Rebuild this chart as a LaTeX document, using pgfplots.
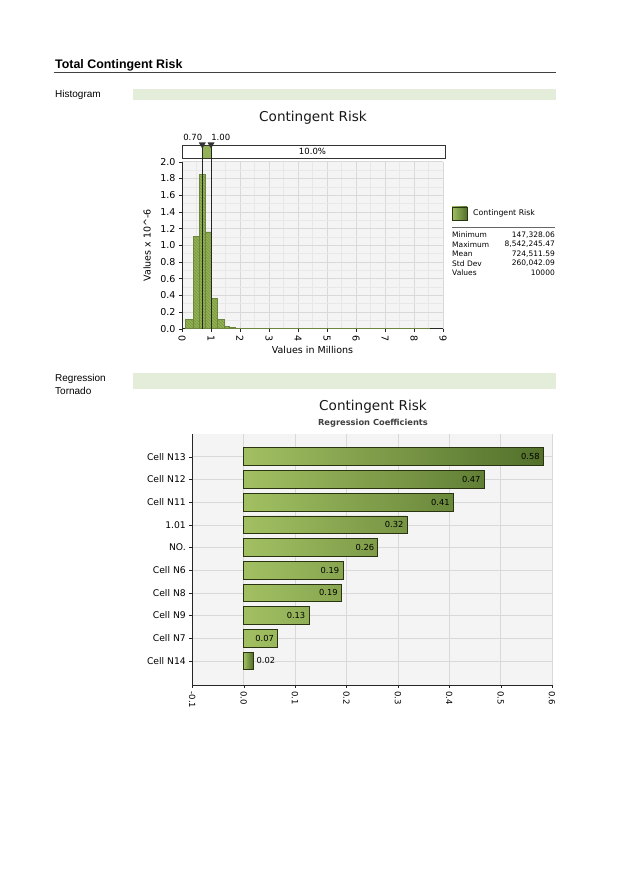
\documentclass[border=0pt]{standalone}
\usepackage{fontspec}
\setmainfont{Liberation Sans}
\newfontfamily\chartfont{DejaVu Sans}
\usepackage{pgfplots}
\pgfplotsset{compat=1.18}
\usetikzlibrary{patterns}

\definecolor{band}{HTML}{E4EDD9}
\definecolor{histg}{HTML}{93B156}
\definecolor{stripe}{HTML}{779838}
\definecolor{barlight}{HTML}{A2C062}
\definecolor{bardark}{HTML}{52702A}
\definecolor{baredge}{HTML}{2A3410}
\definecolor{plotbg}{HTML}{F4F4F4}
\definecolor{gridc}{HTML}{D9D9D9}

\begin{document}
\begin{tikzpicture}
\begin{scope}[x=1pt,y=1pt]
\useasboundingbox (0,0) rectangle (622,879);
\fill[white] (0,0) rectangle (622,879);
% page header
\node[anchor=base west, inner sep=0, font=\fontsize{12.4}{14}\selectfont\bfseries] at (55,810.5) {Total Contingent Risk};
\draw[black!75, line width=1.2pt] (54,806.5) -- (556,806.5);
\node[anchor=west, inner sep=0, font=\fontsize{10}{12}\selectfont] at (55,784.5) {Histogram};
\fill[band] (133,779) rectangle (556,790);
\node[anchor=west, inner sep=0, font=\fontsize{10}{12}\selectfont] at (55,500) {Regression};
\node[anchor=west, inner sep=0, font=\fontsize{10}{12}\selectfont] at (55,488) {Tornado};
\fill[band] (133,490) rectangle (556,506);
% histogram title and stats box
\node[font=\chartfont\fontsize{13.6}{15}\selectfont, text=black!90] at (313,761) {Contingent Risk};
\shade[left color=barlight, right color=bardark, draw=baredge] (452,659) rectangle (467,672);
\node[anchor=west, inner sep=0, font=\chartfont\fontsize{7.8}{9}\selectfont] at (473,665.5) {Contingent Risk};
\draw[black!60] (452,652) -- (555,652);
\begin{scope}[every node/.style={inner sep=0, font=\chartfont\fontsize{7.5}{9}\selectfont}]
\node[anchor=west] at (452,644) {Minimum};   \node[anchor=east] at (555,644) {147,328.06};
\node[anchor=west] at (452,634.5) {Maximum}; \node[anchor=east] at (555,634.5) {8,542,245.47};
\node[anchor=west] at (452,625) {Mean};      \node[anchor=east] at (555,625) {724,511.59};
\node[anchor=west] at (452,615.5) {Std Dev}; \node[anchor=east] at (555,615.5) {260,042.09};
\node[anchor=west] at (452,606) {Values};    \node[anchor=east] at (555,606) {10000};
\end{scope}
% tornado titles
\node[font=\chartfont\fontsize{13.6}{15}\selectfont, text=black!90] at (373,472) {Contingent Risk};
\node[font=\chartfont\fontsize{8.3}{10}\selectfont\bfseries, text=black!75] at (373,456) {Regression Coefficients};
\end{scope}

% ---------------- histogram ----------------
\begin{axis}[
    at={(182pt,550.3pt)}, anchor=south west,
    scale only axis, width=261pt, height=167pt,
    xmin=0, xmax=9, ymin=0, ymax=2,
    clip=false,
    axis background/.style={fill=plotbg},
    axis lines*=left, axis line style={black!85, line width=0.8pt},
    xtick={0,1,...,9},
    ytick={0,0.2,0.4,0.6,0.8,1.0,1.2,1.4,1.6,1.8,2.0},
    minor x tick num=1, minor y tick num=1,
    grid=both, major grid style={gridc}, minor grid style={gridc!60},
    tick align=outside, major tick length=3pt, minor tick length=0pt,
    tick style={black!85},
    /pgf/number format/assume math mode=true,
    yticklabel style={/pgf/number format/fixed, /pgf/number format/precision=1,
        /pgf/number format/fixed zerofill},
    xticklabel style={rotate=-90, anchor=west},
    ticklabel style={font=\chartfont\fontsize{9.5}{10}\selectfont, text=black},
    xlabel={Values in Millions},
    ylabel={Values x 10\textasciicircum-6},
    every axis x label/.style={at={(axis description cs:0.5,-0.13)}, anchor=center,
        font=\chartfont\fontsize{9.5}{11}\selectfont},
    every axis y label/.style={at={(axis description cs:-0.134,0.5)}, rotate=90, anchor=center,
        font=\chartfont\fontsize{9.5}{11}\selectfont},
]
\addplot[ybar interval, fill=histg, draw=histg!75!black,
    postaction={pattern=north west lines, pattern color=stripe}]
  coordinates {(0.12,0.11) (0.38,1.11) (0.60,1.85) (0.80,1.16) (1.02,0.36)
               (1.23,0.11) (1.44,0.03) (1.64,0.012) (1.84,0.004) (2.05,0.002) (8.54,0)};
% selected range 0.70 - 1.00
\fill[histg] (axis cs:0.7,2.045) rectangle (axis cs:1.0,2.2);
\draw[black!80] (axis cs:0,2.045) rectangle (axis cs:9.07,2.2);
\node[font=\chartfont\fontsize{8.5}{10}\selectfont] at (axis cs:4.5,2.122) {10.0\%};
\draw[black!85, line width=0.7pt] (axis cs:0.7,0) -- (axis cs:0.7,2.2);
\draw[black!85, line width=0.7pt] (axis cs:1.0,0) -- (axis cs:1.0,2.2);
\fill[black!80] (axis cs:0.7,2.2) ++(-3.5pt,2.5pt) -- ++(7pt,0) -- ++(-3.5pt,-6pt) -- cycle;
\fill[black!80] (axis cs:1.0,2.2) ++(-3.5pt,2.5pt) -- ++(7pt,0) -- ++(-3.5pt,-6pt) -- cycle;
\node[anchor=south east, inner sep=1pt, font=\chartfont\fontsize{8.5}{10}\selectfont] at (axis cs:0.74,2.24) {0.70};
\node[anchor=south west, inner sep=1pt, font=\chartfont\fontsize{8.5}{10}\selectfont] at (axis cs:0.97,2.24) {1.00};
\end{axis}

% ---------------- tornado ----------------
\begin{axis}[
    at={(192.3pt,194pt)}, anchor=south west,
    scale only axis, width=359.7pt, height=251pt,
    xmin=-0.1, xmax=0.6, ymin=-1.06, ymax=10,
    axis background/.style={fill=plotbg},
    axis lines*=left, axis line style={black!85, line width=0.8pt},
    xtick={-0.1,0,0.1,0.2,0.3,0.4,0.5,0.6},
    ytick={0,...,9},
    yticklabels={Cell N14, Cell N7, Cell N9, Cell N8, Cell N6, NO., 1.01, Cell N11, Cell N12, Cell N13},
    grid=major, major grid style={gridc},
    tick align=outside, major tick length=3pt, tick style={black!85},
    /pgf/number format/assume math mode=true,
    xticklabel style={rotate=-90, anchor=west, /pgf/number format/fixed,
        /pgf/number format/precision=1, /pgf/number format/fixed zerofill,
        font=\chartfont\fontsize{8.5}{10}\selectfont},
    yticklabel style={font=\chartfont\fontsize{9.2}{10}\selectfont, text=black},
]
\addplot[xbar, bar width=17.7pt, bar shift=0pt,
    left color=barlight, right color=bardark, draw=baredge, line width=0.7pt,
    nodes near coords,
    nodes near coords style={anchor=east, font=\chartfont\fontsize{8.3}{10}\selectfont,
        text=black, /pgf/number format/fixed, /pgf/number format/precision=2,
        /pgf/number format/fixed zerofill}]
  coordinates {(0.583,9) (0.468,8) (0.408,7) (0.318,6) (0.261,5)
               (0.193,4) (0.190,3) (0.127,2) (0.066,1)};
\addplot[xbar, bar width=17.7pt, bar shift=0pt,
    left color=barlight, right color=bardark, draw=baredge, line width=0.7pt,
    nodes near coords,
    nodes near coords style={anchor=west, font=\chartfont\fontsize{8.3}{10}\selectfont,
        text=black, /pgf/number format/fixed, /pgf/number format/precision=2,
        /pgf/number format/fixed zerofill}]
  coordinates {(0.018,0)};
\end{axis}
\end{tikzpicture}
\end{document}
